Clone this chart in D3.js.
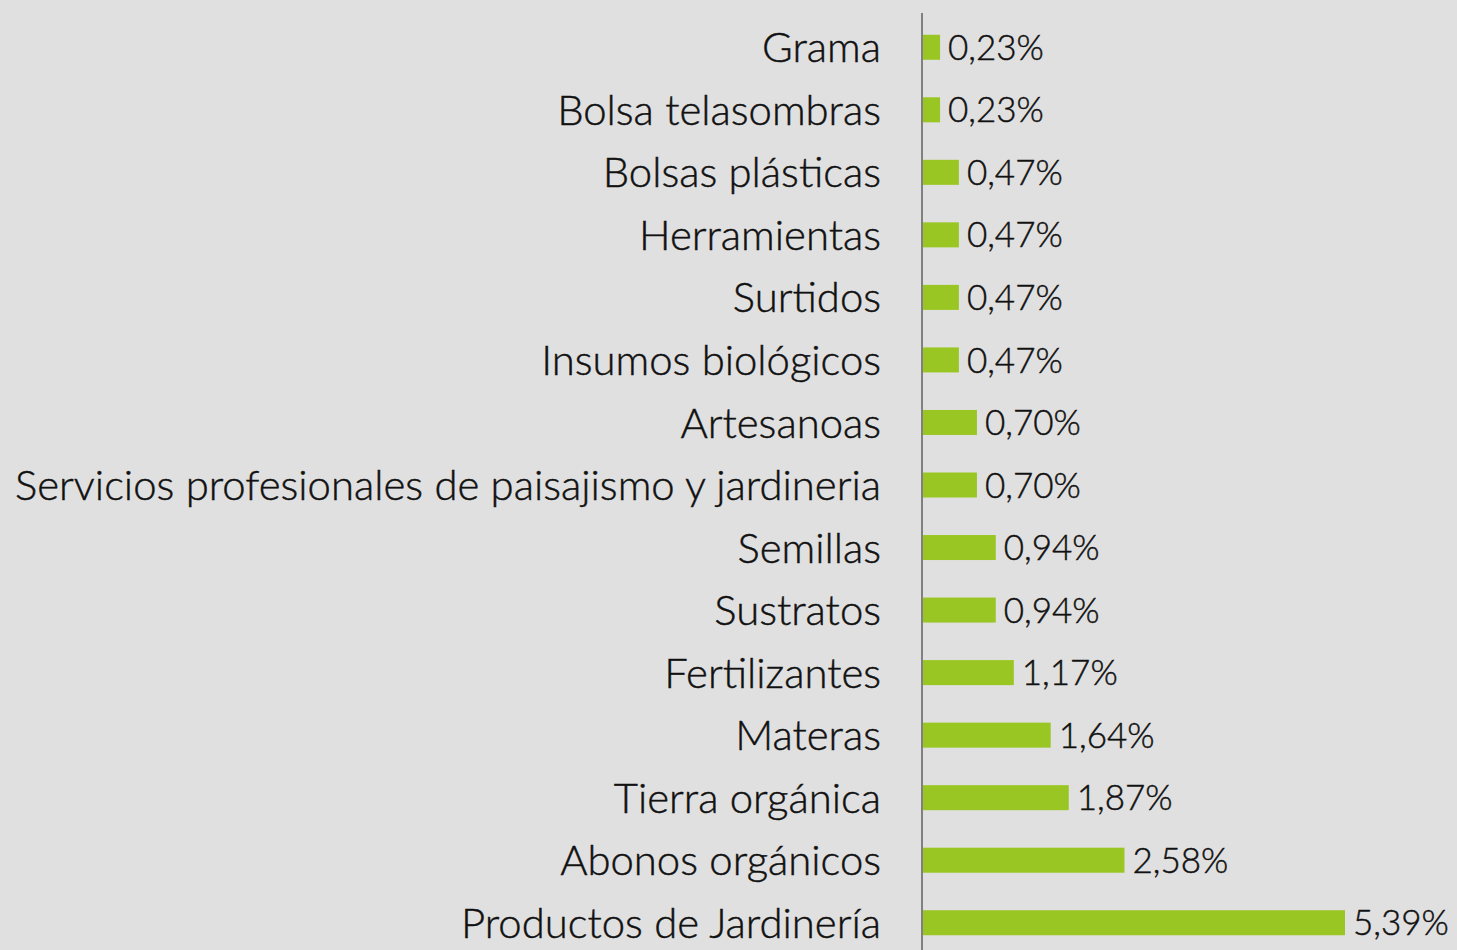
<!DOCTYPE html>
<html>
<head>
<meta charset="utf-8">
<script src="https://cdn.jsdelivr.net/npm/d3@7"></script>
<style>
  body { margin: 0; background: #e0e0e0; }
  svg { display: block; }
  .label, .value { font-family: "URW Gothic", "Century Gothic", Lato, "DejaVu Sans", sans-serif; font-weight: 300;
    fill: #111; stroke: #111; stroke-width: 0.45px; }
</style>
</head>
<body>
<script>
var categories = ["Grama", "Bolsa telasombras", "Bolsas plásticas", "Herramientas", "Surtidos",
  "Insumos biológicos", "Artesanoas", "Servicios profesionales de paisajismo y jardineria",
  "Semillas", "Sustratos", "Fertilizantes", "Materas", "Tierra orgánica", "Abonos orgánicos",
  "Productos de Jardinería"];
var values = [0.23, 0.23, 0.47, 0.47, 0.47, 0.47, 0.70, 0.70, 0.94, 0.94, 1.17, 1.64, 1.87, 2.58, 5.39];
var valueLabels = ["0,23%", "0,23%", "0,47%", "0,47%", "0,47%", "0,47%", "0,70%", "0,70%",
  "0,94%", "0,94%", "1,17%", "1,64%", "1,87%", "2,58%", "5,39%"];

var width = 1457, height = 950;
var x0 = 922;

var svg = d3.select("body").append("svg")
    .attr("width", width).attr("height", height);

var x = d3.scaleLinear().domain([0, 5.39]).range([x0, 1345]);
var y = d3.scaleBand().domain(categories).range([16, 954]).paddingInner(0.6).paddingOuter(0.3);

var labels = svg.selectAll(".label")
    .data(categories)
    .enter().append("text")
    .attr("class", "label")
    .attr("x", 881)
    .attr("y", function(d) { return y(d) + y.bandwidth() / 2; })
    .attr("dy", "0.36em")
    .attr("text-anchor", "end")
    .style("font-size", "32px")
    .text(function(d) { return d; });

// fit the longest label to the width seen in the picture
var longest = labels.filter(function(d, i) { return i == 7; }).node().getComputedTextLength();
var fs = 32 * 866 / longest;
labels.style("font-size", fs + "px");

svg.selectAll(".bar")
    .data(values)
    .enter().append("rect")
    .attr("class", "bar")
    .attr("x", x0 + 1)
    .attr("y", function(d, i) { return y(categories[i]); })
    .attr("width", function(d) { return x(d) - x0 - 1; })
    .attr("height", y.bandwidth())
    .attr("fill", "#99c623");

var vals = svg.selectAll(".value")
    .data(values)
    .enter().append("text")
    .attr("class", "value")
    .attr("x", function(d) { return x(d) + 8; })
    .attr("y", function(d, i) { return y(categories[i]) + y.bandwidth() / 2; })
    .attr("dy", "0.36em")
    .style("font-size", Math.min(fs, 35) + "px")
    .text(function(d, i) { return valueLabels[i]; });

// squeeze the value texts a little so the last one stays inside
var lastW = vals.filter(function(d, i) { return i == 14; }).node().getComputedTextLength();
if (lastW > 99) vals.style("letter-spacing", ((99 - lastW) / 5) + "px");

svg.append("line")
    .attr("x1", x0).attr("x2", x0)
    .attr("y1", 13).attr("y2", height)
    .attr("stroke", "#808080")
    .attr("stroke-width", 2);
</script>
</body>
</html>
